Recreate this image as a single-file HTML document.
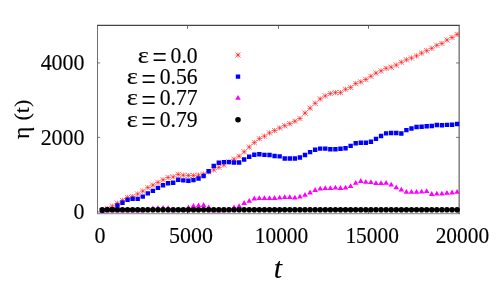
<!DOCTYPE html>
<html><head><meta charset="utf-8"><style>
html,body{margin:0;padding:0;background:#fff;}
svg{display:block}
text{font-family:"Liberation Serif",serif;fill:#000;stroke:#000;stroke-width:0.15px}
</style></head><body>
<svg width="498" height="283" viewBox="0 0 498 283">
<rect width="498" height="283" fill="#fff"/>
<path d="M97.1 25.4H459.7" stroke="#444" stroke-width="1.1" fill="none"/>
<path d="M97.5 25.5V213.7" stroke="#404040" stroke-width="0.75" fill="none"/>
<path d="M459.13 25.5V214.1" stroke="#404040" stroke-width="1.0" fill="none"/>
<path d="M97.1 213.7H459.7" stroke="#404040" stroke-width="0.65" fill="none"/>
<path d="M187.50 213.7v-3.2M187.50 25.5v3.2M278.50 213.7v-3.2M278.50 25.5v3.2M368.50 213.7v-3.2M368.50 25.5v3.2" stroke="#585858" stroke-width="0.9" fill="none"/>
<path d="M97.5 211.85h2.6M459.3 211.85h-3.2M97.5 137.40h2.6M459.3 137.40h-3.2M97.5 62.95h2.6M459.3 62.95h-3.2" stroke="#666" stroke-width="0.9" fill="none"/>
<path d="M99.60 208.20L104.80 213.40M99.60 213.40L104.80 208.20M99.60 210.80H104.80M102.20 208.20V213.40M104.67 206.00L109.87 211.20M104.67 211.20L109.87 206.00M104.67 208.60H109.87M107.27 206.00V211.20M109.74 203.50L114.94 208.70M109.74 208.70L114.94 203.50M109.74 206.10H114.94M112.34 203.50V208.70M114.81 200.60L120.01 205.80M114.81 205.80L120.01 200.60M114.81 203.20H120.01M117.41 200.60V205.80M119.88 197.80L125.08 203.00M119.88 203.00L125.08 197.80M119.88 200.40H125.08M122.48 197.80V203.00M124.95 194.90L130.15 200.10M124.95 200.10L130.15 194.90M124.95 197.50H130.15M127.55 194.90V200.10M130.02 193.90L135.22 199.10M130.02 199.10L135.22 193.90M130.02 196.50H135.22M132.62 193.90V199.10M135.09 191.40L140.29 196.60M135.09 196.60L140.29 191.40M135.09 194.00H140.29M137.69 191.40V196.60M140.16 188.50L145.36 193.70M140.16 193.70L145.36 188.50M140.16 191.10H145.36M142.76 188.50V193.70M145.23 185.00L150.43 190.20M145.23 190.20L150.43 185.00M145.23 187.60H150.43M147.83 185.00V190.20M150.30 182.50L155.50 187.70M150.30 187.70L155.50 182.50M150.30 185.10H155.50M152.90 182.50V187.70M155.37 179.80L160.57 185.00M155.37 185.00L160.57 179.80M155.37 182.40H160.57M157.97 179.80V185.00M160.44 177.20L165.64 182.40M160.44 182.40L165.64 177.20M160.44 179.80H165.64M163.04 177.20V182.40M165.51 174.90L170.71 180.10M165.51 180.10L170.71 174.90M165.51 177.50H170.71M168.11 174.90V180.10M170.58 174.30L175.78 179.50M170.58 179.50L175.78 174.30M170.58 176.90H175.78M173.18 174.30V179.50M175.65 171.80L180.85 177.00M175.65 177.00L180.85 171.80M175.65 174.40H180.85M178.25 171.80V177.00M180.72 172.60L185.92 177.80M180.72 177.80L185.92 172.60M180.72 175.20H185.92M183.32 172.60V177.80M185.79 172.90L190.99 178.10M185.79 178.10L190.99 172.90M185.79 175.50H190.99M188.39 172.90V178.10M190.86 172.90L196.06 178.10M190.86 178.10L196.06 172.90M190.86 175.50H196.06M193.46 172.90V178.10M195.93 172.50L201.13 177.70M195.93 177.70L201.13 172.50M195.93 175.10H201.13M198.53 172.50V177.70M201.00 171.50L206.20 176.70M201.00 176.70L206.20 171.50M201.00 174.10H206.20M203.60 171.50V176.70M206.07 169.20L211.27 174.40M206.07 174.40L211.27 169.20M206.07 171.80H211.27M208.67 169.20V174.40M211.14 167.30L216.34 172.50M211.14 172.50L216.34 167.30M211.14 169.90H216.34M213.74 167.30V172.50M216.21 164.70L221.41 169.90M216.21 169.90L221.41 164.70M216.21 167.30H221.41M218.81 164.70V169.90M221.28 162.40L226.48 167.60M221.28 167.60L226.48 162.40M221.28 165.00H226.48M223.88 162.40V167.60M226.35 159.10L231.55 164.30M226.35 164.30L231.55 159.10M226.35 161.70H231.55M228.95 159.10V164.30M231.42 156.60L236.62 161.80M231.42 161.80L236.62 156.60M231.42 159.20H236.62M234.02 156.60V161.80M236.49 153.60L241.69 158.80M236.49 158.80L241.69 153.60M236.49 156.20H241.69M239.09 153.60V158.80M241.56 149.20L246.76 154.40M241.56 154.40L246.76 149.20M241.56 151.80H246.76M244.16 149.20V154.40M246.63 144.50L251.83 149.70M246.63 149.70L251.83 144.50M246.63 147.10H251.83M249.23 144.50V149.70M251.70 140.00L256.90 145.20M251.70 145.20L256.90 140.00M251.70 142.60H256.90M254.30 140.00V145.20M256.77 136.10L261.97 141.30M256.77 141.30L261.97 136.10M256.77 138.70H261.97M259.37 136.10V141.30M261.84 133.60L267.04 138.80M261.84 138.80L267.04 133.60M261.84 136.20H267.04M264.44 133.60V138.80M266.91 130.30L272.11 135.50M266.91 135.50L272.11 130.30M266.91 132.90H272.11M269.51 130.30V135.50M271.98 127.90L277.18 133.10M271.98 133.10L277.18 127.90M271.98 130.50H277.18M274.58 127.90V133.10M277.05 125.40L282.25 130.60M277.05 130.60L282.25 125.40M277.05 128.00H282.25M279.65 125.40V130.60M282.12 123.10L287.32 128.30M282.12 128.30L287.32 123.10M282.12 125.70H287.32M284.72 123.10V128.30M287.19 121.10L292.39 126.30M287.19 126.30L292.39 121.10M287.19 123.70H292.39M289.79 121.10V126.30M292.26 118.60L297.46 123.80M292.26 123.80L297.46 118.60M292.26 121.20H297.46M294.86 118.60V123.80M297.33 115.90L302.53 121.10M297.33 121.10L302.53 115.90M297.33 118.50H302.53M299.93 115.90V121.10M302.40 110.40L307.60 115.60M302.40 115.60L307.60 110.40M302.40 113.00H307.60M305.00 110.40V115.60M307.47 105.60L312.67 110.80M307.47 110.80L312.67 105.60M307.47 108.20H312.67M310.07 105.60V110.80M312.54 100.70L317.74 105.90M312.54 105.90L317.74 100.70M312.54 103.30H317.74M315.14 100.70V105.90M317.61 96.30L322.81 101.50M317.61 101.50L322.81 96.30M317.61 98.90H322.81M320.21 96.30V101.50M322.68 93.30L327.88 98.50M322.68 98.50L327.88 93.30M322.68 95.90H327.88M325.28 93.30V98.50M327.75 91.00L332.95 96.20M327.75 96.20L332.95 91.00M327.75 93.60H332.95M330.35 91.00V96.20M332.82 90.00L338.02 95.20M332.82 95.20L338.02 90.00M332.82 92.60H338.02M335.42 90.00V95.20M337.89 90.00L343.09 95.20M337.89 95.20L343.09 90.00M337.89 92.60H343.09M340.49 90.00V95.20M342.96 86.70L348.16 91.90M342.96 91.90L348.16 86.70M342.96 89.30H348.16M345.56 86.70V91.90M348.03 84.80L353.23 90.00M348.03 90.00L353.23 84.80M348.03 87.40H353.23M350.63 84.80V90.00M353.10 80.90L358.30 86.10M353.10 86.10L358.30 80.90M353.10 83.50H358.30M355.70 80.90V86.10M358.17 79.30L363.37 84.50M358.17 84.50L363.37 79.30M358.17 81.90H363.37M360.77 79.30V84.50M363.24 76.90L368.44 82.10M363.24 82.10L368.44 76.90M363.24 79.50H368.44M365.84 76.90V82.10M368.31 73.70L373.51 78.90M368.31 78.90L373.51 73.70M368.31 76.30H373.51M370.91 73.70V78.90M373.38 70.50L378.58 75.70M373.38 75.70L378.58 70.50M373.38 73.10H378.58M375.98 70.50V75.70M378.45 68.30L383.65 73.50M378.45 73.50L383.65 68.30M378.45 70.90H383.65M381.05 68.30V73.50M383.52 65.70L388.72 70.90M383.52 70.90L388.72 65.70M383.52 68.30H388.72M386.12 65.70V70.90M388.59 64.60L393.79 69.80M388.59 69.80L393.79 64.60M388.59 67.20H393.79M391.19 64.60V69.80M393.66 62.50L398.86 67.70M393.66 67.70L398.86 62.50M393.66 65.10H398.86M396.26 62.50V67.70M398.73 59.60L403.93 64.80M398.73 64.80L403.93 59.60M398.73 62.20H403.93M401.33 59.60V64.80M403.80 57.20L409.00 62.40M403.80 62.40L409.00 57.20M403.80 59.80H409.00M406.40 57.20V62.40M408.87 55.40L414.07 60.60M408.87 60.60L414.07 55.40M408.87 58.00H414.07M411.47 55.40V60.60M413.94 53.30L419.14 58.50M413.94 58.50L419.14 53.30M413.94 55.90H419.14M416.54 53.30V58.50M419.01 50.50L424.21 55.70M419.01 55.70L424.21 50.50M419.01 53.10H424.21M421.61 50.50V55.70M424.08 48.10L429.28 53.30M424.08 53.30L429.28 48.10M424.08 50.70H429.28M426.68 48.10V53.30M429.15 45.70L434.35 50.90M429.15 50.90L434.35 45.70M429.15 48.30H434.35M431.75 45.70V50.90M434.22 42.70L439.42 47.90M434.22 47.90L439.42 42.70M434.22 45.30H439.42M436.82 42.70V47.90M439.29 40.90L444.49 46.10M439.29 46.10L444.49 40.90M439.29 43.50H444.49M441.89 40.90V46.10M444.36 37.40L449.56 42.60M444.36 42.60L449.56 37.40M444.36 40.00H449.56M446.96 37.40V42.60M449.43 34.90L454.63 40.10M449.43 40.10L454.63 34.90M449.43 37.50H454.63M452.03 34.90V40.10M454.50 31.80L459.70 37.00M454.50 37.00L459.70 31.80M454.50 34.40H459.70M457.10 31.80V37.00M235.40 52.40L240.60 57.60M235.40 57.60L240.60 52.40M235.40 55.00H240.60M238.00 52.40V57.60" stroke="#ff0000" stroke-width="0.55" fill="none"/>
<path d="M100.00 208.50h4.4v4.4h-4.4zM105.07 207.40h4.4v4.4h-4.4zM110.14 207.00h4.4v4.4h-4.4zM115.21 203.30h4.4v4.4h-4.4zM120.28 200.60h4.4v4.4h-4.4zM125.35 197.70h4.4v4.4h-4.4zM130.42 196.70h4.4v4.4h-4.4zM135.49 196.70h4.4v4.4h-4.4zM140.56 194.40h4.4v4.4h-4.4zM145.63 191.20h4.4v4.4h-4.4zM150.70 188.70h4.4v4.4h-4.4zM155.77 185.70h4.4v4.4h-4.4zM160.84 183.00h4.4v4.4h-4.4zM165.91 181.00h4.4v4.4h-4.4zM170.98 180.60h4.4v4.4h-4.4zM176.05 177.50h4.4v4.4h-4.4zM181.12 178.20h4.4v4.4h-4.4zM186.19 178.60h4.4v4.4h-4.4zM191.26 177.90h4.4v4.4h-4.4zM196.33 176.30h4.4v4.4h-4.4zM201.40 173.80h4.4v4.4h-4.4zM206.47 169.00h4.4v4.4h-4.4zM211.54 163.80h4.4v4.4h-4.4zM216.61 160.50h4.4v4.4h-4.4zM221.68 159.90h4.4v4.4h-4.4zM226.75 159.90h4.4v4.4h-4.4zM231.82 160.30h4.4v4.4h-4.4zM236.89 160.30h4.4v4.4h-4.4zM241.96 157.30h4.4v4.4h-4.4zM247.03 154.60h4.4v4.4h-4.4zM252.10 152.50h4.4v4.4h-4.4zM257.17 152.10h4.4v4.4h-4.4zM262.24 152.70h4.4v4.4h-4.4zM267.31 152.80h4.4v4.4h-4.4zM272.38 153.80h4.4v4.4h-4.4zM277.45 154.20h4.4v4.4h-4.4zM282.52 156.30h4.4v4.4h-4.4zM287.59 156.30h4.4v4.4h-4.4zM292.66 156.30h4.4v4.4h-4.4zM297.73 155.30h4.4v4.4h-4.4zM302.80 152.80h4.4v4.4h-4.4zM307.87 149.90h4.4v4.4h-4.4zM312.94 147.50h4.4v4.4h-4.4zM318.01 146.40h4.4v4.4h-4.4zM323.08 146.40h4.4v4.4h-4.4zM328.15 147.00h4.4v4.4h-4.4zM333.22 147.00h4.4v4.4h-4.4zM338.29 146.60h4.4v4.4h-4.4zM343.36 146.00h4.4v4.4h-4.4zM348.43 143.70h4.4v4.4h-4.4zM353.50 141.00h4.4v4.4h-4.4zM358.57 140.60h4.4v4.4h-4.4zM363.64 140.60h4.4v4.4h-4.4zM368.71 139.60h4.4v4.4h-4.4zM373.78 136.70h4.4v4.4h-4.4zM378.85 133.80h4.4v4.4h-4.4zM383.92 131.20h4.4v4.4h-4.4zM388.99 130.80h4.4v4.4h-4.4zM394.06 130.80h4.4v4.4h-4.4zM399.13 131.30h4.4v4.4h-4.4zM404.20 127.90h4.4v4.4h-4.4zM409.27 126.30h4.4v4.4h-4.4zM414.34 124.80h4.4v4.4h-4.4zM419.41 124.60h4.4v4.4h-4.4zM424.48 124.10h4.4v4.4h-4.4zM429.55 123.80h4.4v4.4h-4.4zM434.62 122.80h4.4v4.4h-4.4zM439.69 123.10h4.4v4.4h-4.4zM444.76 122.70h4.4v4.4h-4.4zM449.83 122.50h4.4v4.4h-4.4zM454.90 121.80h4.4v4.4h-4.4zM235.8 74.39999999999999h4.4v4.4h-4.4z" fill="#0000ff"/>
<path d="M102.20 207.40L105.00 212.20H99.40zM107.27 207.40L110.07 212.20H104.47zM112.34 207.40L115.14 212.20H109.54zM117.41 207.40L120.21 212.20H114.61zM122.48 207.40L125.28 212.20H119.68zM127.55 207.40L130.35 212.20H124.75zM132.62 207.40L135.42 212.20H129.82zM137.69 207.40L140.49 212.20H134.89zM142.76 207.40L145.56 212.20H139.96zM147.83 206.60L150.63 211.40H145.03zM152.90 205.60L155.70 210.40H150.10zM157.97 205.30L160.77 210.10H155.17zM163.04 205.00L165.84 209.80H160.24zM168.11 205.30L170.91 210.10H165.31zM173.18 207.40L175.98 212.20H170.38zM178.25 207.30L181.05 212.10H175.45zM183.32 207.30L186.12 212.10H180.52zM188.39 204.60L191.19 209.40H185.59zM193.46 202.90L196.26 207.70H190.66zM198.53 202.40L201.33 207.20H195.73zM203.60 202.10L206.40 206.90H200.80zM208.67 204.50L211.47 209.30H205.87zM213.74 207.35L216.54 212.15H210.94zM218.81 207.35L221.61 212.15H216.01zM223.88 207.35L226.68 212.15H221.08zM228.95 207.00L231.75 211.80H226.15zM234.02 204.50L236.82 209.30H231.22zM239.09 203.30L241.89 208.10H236.29zM244.16 200.10L246.96 204.90H241.36zM249.23 197.90L252.03 202.70H246.43zM254.30 195.60L257.10 200.40H251.50zM259.37 195.30L262.17 200.10H256.57zM264.44 195.30L267.24 200.10H261.64zM269.51 195.30L272.31 200.10H266.71zM274.58 195.10L277.38 199.90H271.78zM279.65 194.70L282.45 199.50H276.85zM284.72 194.20L287.52 199.00H281.92zM289.79 194.20L292.59 199.00H286.99zM294.86 194.70L297.66 199.50H292.06zM299.93 193.80L302.73 198.60H297.13zM305.00 192.00L307.80 196.80H302.20zM310.07 189.60L312.87 194.40H307.27zM315.14 187.10L317.94 191.90H312.34zM320.21 185.70L323.01 190.50H317.41zM325.28 185.20L328.08 190.00H322.48zM330.35 185.20L333.15 190.00H327.55zM335.42 184.80L338.22 189.60H332.62zM340.49 185.10L343.29 189.90H337.69zM345.56 184.80L348.36 189.60H342.76zM350.63 183.30L353.43 188.10H347.83zM355.70 179.90L358.50 184.70H352.90zM360.77 178.10L363.57 182.90H357.97zM365.84 179.00L368.64 183.80H363.04zM370.91 179.30L373.71 184.10H368.11zM375.98 180.30L378.78 185.10H373.18zM381.05 180.30L383.85 185.10H378.25zM386.12 179.90L388.92 184.70H383.32zM391.19 181.80L393.99 186.60H388.39zM396.26 184.50L399.06 189.30H393.46zM401.33 186.80L404.13 191.60H398.53zM406.40 189.00L409.20 193.80H403.60zM411.47 189.00L414.27 193.80H408.67zM416.54 189.00L419.34 193.80H413.74zM421.61 188.70L424.41 193.50H418.81zM426.68 188.30L429.48 193.10H423.88zM431.75 191.10L434.55 195.90H428.95zM436.82 190.80L439.62 195.60H434.02zM441.89 190.80L444.69 195.60H439.09zM446.96 189.90L449.76 194.70H444.16zM452.03 189.60L454.83 194.40H449.23zM457.10 189.00L459.90 193.80H454.30zM238.00 95.00L240.80 99.80H235.20z" fill="#ff00ff"/>
<g fill="#000"><circle cx="102.20" cy="209.8" r="2.8"/><circle cx="107.27" cy="209.8" r="2.8"/><circle cx="112.34" cy="209.8" r="2.8"/><circle cx="117.41" cy="209.8" r="2.8"/><circle cx="122.48" cy="209.8" r="2.8"/><circle cx="127.55" cy="209.8" r="2.8"/><circle cx="132.62" cy="209.8" r="2.8"/><circle cx="137.69" cy="209.8" r="2.8"/><circle cx="142.76" cy="209.8" r="2.8"/><circle cx="147.83" cy="209.8" r="2.8"/><circle cx="152.90" cy="209.8" r="2.8"/><circle cx="157.97" cy="209.8" r="2.8"/><circle cx="163.04" cy="209.8" r="2.8"/><circle cx="168.11" cy="209.8" r="2.8"/><circle cx="173.18" cy="209.8" r="2.8"/><circle cx="178.25" cy="209.8" r="2.8"/><circle cx="183.32" cy="209.8" r="2.8"/><circle cx="188.39" cy="209.8" r="2.8"/><circle cx="193.46" cy="209.8" r="2.8"/><circle cx="198.53" cy="209.8" r="2.8"/><circle cx="203.60" cy="209.8" r="2.8"/><circle cx="208.67" cy="209.8" r="2.8"/><circle cx="213.74" cy="209.8" r="2.8"/><circle cx="218.81" cy="209.8" r="2.8"/><circle cx="223.88" cy="209.8" r="2.8"/><circle cx="228.95" cy="209.8" r="2.8"/><circle cx="234.02" cy="209.8" r="2.8"/><circle cx="239.09" cy="209.8" r="2.8"/><circle cx="244.16" cy="209.8" r="2.8"/><circle cx="249.23" cy="209.8" r="2.8"/><circle cx="254.30" cy="209.8" r="2.8"/><circle cx="259.37" cy="209.8" r="2.8"/><circle cx="264.44" cy="209.8" r="2.8"/><circle cx="269.51" cy="209.8" r="2.8"/><circle cx="274.58" cy="209.8" r="2.8"/><circle cx="279.65" cy="209.8" r="2.8"/><circle cx="284.72" cy="209.8" r="2.8"/><circle cx="289.79" cy="209.8" r="2.8"/><circle cx="294.86" cy="209.8" r="2.8"/><circle cx="299.93" cy="209.8" r="2.8"/><circle cx="305.00" cy="209.8" r="2.8"/><circle cx="310.07" cy="209.8" r="2.8"/><circle cx="315.14" cy="209.8" r="2.8"/><circle cx="320.21" cy="209.8" r="2.8"/><circle cx="325.28" cy="209.8" r="2.8"/><circle cx="330.35" cy="209.8" r="2.8"/><circle cx="335.42" cy="209.8" r="2.8"/><circle cx="340.49" cy="209.8" r="2.8"/><circle cx="345.56" cy="209.8" r="2.8"/><circle cx="350.63" cy="209.8" r="2.8"/><circle cx="355.70" cy="209.8" r="2.8"/><circle cx="360.77" cy="209.8" r="2.8"/><circle cx="365.84" cy="209.8" r="2.8"/><circle cx="370.91" cy="209.8" r="2.8"/><circle cx="375.98" cy="209.8" r="2.8"/><circle cx="381.05" cy="209.8" r="2.8"/><circle cx="386.12" cy="209.8" r="2.8"/><circle cx="391.19" cy="209.8" r="2.8"/><circle cx="396.26" cy="209.8" r="2.8"/><circle cx="401.33" cy="209.8" r="2.8"/><circle cx="406.40" cy="209.8" r="2.8"/><circle cx="411.47" cy="209.8" r="2.8"/><circle cx="416.54" cy="209.8" r="2.8"/><circle cx="421.61" cy="209.8" r="2.8"/><circle cx="426.68" cy="209.8" r="2.8"/><circle cx="431.75" cy="209.8" r="2.8"/><circle cx="436.82" cy="209.8" r="2.8"/><circle cx="441.89" cy="209.8" r="2.8"/><circle cx="446.96" cy="209.8" r="2.8"/><circle cx="452.03" cy="209.8" r="2.8"/><circle cx="457.10" cy="209.8" r="2.8"/><circle cx="238" cy="119.7" r="2.8"/></g>
<g font-size="22" style="opacity:0.999">
<text transform="translate(84.6,70.4) scale(1.0,1.085)" text-anchor="end">4000</text>
<text transform="translate(84.6,144.75) scale(1.0,1.085)" text-anchor="end">2000</text>
<text transform="translate(84.6,219.3) scale(1.0,1.085)" text-anchor="end">0</text>
<text transform="translate(100.1,242.7) scale(1.0,1.085)" text-anchor="middle">0</text>
<text transform="translate(191.0,242.7) scale(1.0,1.085)" text-anchor="middle">5000</text>
<text transform="translate(281.5,242.7) scale(0.972,1.085)" text-anchor="middle">10000</text>
<text transform="translate(372.1,242.7) scale(0.972,1.085)" text-anchor="middle">15000</text>
<text transform="translate(462.4,242.7) scale(0.972,1.085)" text-anchor="middle">20000</text>
<text transform="translate(197.7,62.85) scale(0.985,1.085)" text-anchor="end">0.0</text>
<text transform="translate(152.6,68.3) scale(1.15,1.46475)" text-anchor="start">=</text>
<text transform="translate(137.7,62.85) scale(1.2,1.085)" text-anchor="start">ε</text>
<text transform="translate(197.7,84.15) scale(0.985,1.085)" text-anchor="end">0.56</text>
<text transform="translate(141.6,89.60000000000001) scale(1.15,1.46475)" text-anchor="start">=</text>
<text transform="translate(126.7,84.15) scale(1.2,1.085)" text-anchor="start">ε</text>
<text transform="translate(197.7,105.45) scale(0.985,1.085)" text-anchor="end">0.77</text>
<text transform="translate(141.6,110.9) scale(1.15,1.46475)" text-anchor="start">=</text>
<text transform="translate(126.7,105.45) scale(1.2,1.085)" text-anchor="start">ε</text>
<text transform="translate(197.7,126.75) scale(0.985,1.085)" text-anchor="end">0.79</text>
<text transform="translate(141.6,132.2) scale(1.15,1.46475)" text-anchor="start">=</text>
<text transform="translate(126.7,126.75) scale(1.2,1.085)" text-anchor="start">ε</text>
<text transform="translate(29,139.0) rotate(-90) scale(1.07,1.03)">η</text>
<text transform="translate(29,120.5) rotate(-90) scale(1.0,1)">(t)</text>
<text transform="translate(273.8,278) scale(1,0.95)" font-size="30" font-style="italic">t</text>
</g>
</svg>
</body></html>
